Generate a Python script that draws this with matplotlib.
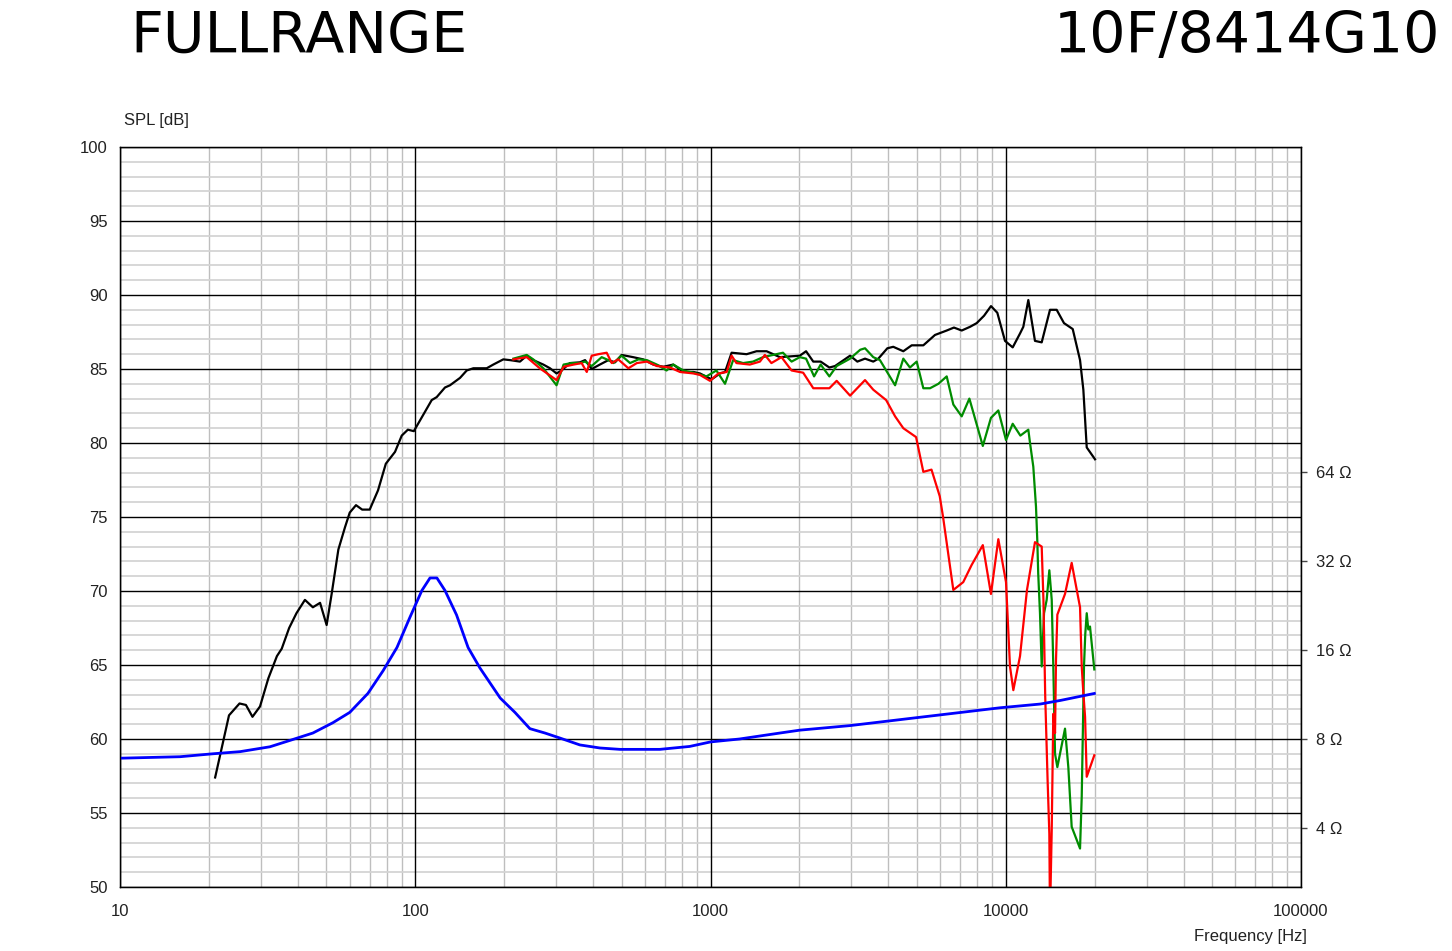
import numpy as np
import matplotlib
matplotlib.use("Agg")
import matplotlib.pyplot as plt
from matplotlib.ticker import FixedLocator, NullLocator, NullFormatter

# on-axis SPL (black)
f_black = [21.0, 23.4, 25.4, 26.7, 28.1, 29.8, 31.8, 34.0, 35.3, 37.4, 39.6, 42.3, 45.0, 47.6,
           50.1, 52.1, 54.9, 57.8, 60.0, 63.0, 66.1, 70.1, 74.8, 79.5, 85.4, 90.0, 94.4, 98.9,
           106.4, 113.7, 118.2, 126.1, 131.1, 141.8, 149.4, 157.3, 174.6, 183.8, 198.7, 209.4,
           226.3, 238.5, 251, 271.5, 286, 301, 313, 334, 361, 376, 396, 422, 451, 475, 500, 547,
           592, 640, 692, 748, 809, 875, 921, 1009, 1077, 1120, 1179, 1325, 1432, 1549, 1718,
           2007, 2107, 2229, 2361, 2527, 2641, 2970, 3143, 3337, 3559, 3702, 3972, 4159, 4498,
           4802, 5258, 5759, 6310, 6677, 7093, 7568, 7973, 8444, 8913, 9363, 9942, 10557, 11177,
           11468, 11925, 12560, 13236, 14120, 14875, 15749, 16859, 17849, 18316, 18805, 20060]
spl_black = [57.4, 61.6, 62.4, 62.3, 61.5, 62.2, 64.1, 65.6, 66.1, 67.5, 68.5, 69.4, 68.9, 69.2,
             67.7, 69.8, 72.8, 74.3, 75.3, 75.8, 75.5, 75.5, 76.8, 78.6, 79.4, 80.5, 80.9, 80.8,
             81.9, 82.9, 83.1, 83.75, 83.9, 84.4, 84.9, 85.05, 85.05, 85.3, 85.65, 85.6,
             85.5, 85.9, 85.6, 85.3, 85.05, 84.7, 84.9, 85.4, 85.45, 85.6, 85.0, 85.3, 85.6, 85.45,
             85.95, 85.8, 85.65, 85.3, 85.15, 85.3, 84.8, 84.8, 84.7, 84.3, 84.7, 84.8, 86.1, 86.0,
             86.2, 86.2, 85.8, 85.9, 86.2, 85.5, 85.5, 85.1, 85.2, 85.9, 85.5, 85.7, 85.5, 85.7,
             86.4, 86.5, 86.2, 86.6, 86.6, 87.3, 87.6, 87.8, 87.6, 87.85, 88.1, 88.6, 89.25, 88.8,
             86.9, 86.46, 87.4, 87.85, 89.66, 86.9, 86.8, 89.0, 89.0, 88.1, 87.7, 85.6, 83.6,
             79.7, 78.9]

# 30 deg (green)
f_green = [215, 238.5, 251, 271.5, 301, 318, 338, 361, 376, 396, 428, 451, 469, 500, 534, 570,
           609, 658, 710, 748, 809, 875, 969, 1047, 1120, 1193, 1289, 1393, 1506, 1628, 1760,
           1882, 2007, 2107, 2243, 2361, 2527, 2675, 2970, 3214, 3337, 3559, 3749, 4219, 4498,
           4737, 4993, 5258, 5541, 5913, 6310, 6644, 7093, 7530, 8362, 8910, 9438, 10020, 10557,
           11208, 11925, 12084, 12397, 12660, 12790, 12880, 13060, 13236, 13480, 13760, 14048,
           14313, 14490, 14687, 14953, 15875, 16290, 16722, 17849, 18085, 18407, 18594, 18805,
           19040, 19292, 19950]
spl_green = [85.7, 85.95, 85.65, 85.05, 83.9, 85.3, 85.4, 85.4, 85.5, 85.2, 85.8, 85.6, 85.4,
             85.9, 85.4, 85.65, 85.6, 85.3, 84.9, 85.3, 84.9, 84.75, 84.5, 84.9, 84.0, 85.6, 85.4,
             85.5, 85.8, 85.95, 86.1, 85.5, 85.8, 85.7, 84.5, 85.3, 84.5, 85.2, 85.7, 86.3, 86.4,
             85.8, 85.6, 83.9, 85.7, 85.1, 85.5, 83.7, 83.7, 84.0, 84.5, 82.6, 81.8, 83.0, 79.8,
             81.7, 82.2, 80.2, 81.3, 80.5, 80.9, 80.0, 78.4, 75.7, 73.4, 71.2, 68.5, 64.9, 68.5,
             69.4, 71.4, 69.4, 64.9, 59.0, 58.1, 60.7, 58.1, 54.07, 52.6, 56.1, 64.9, 67.1, 68.5,
             67.4, 67.6, 64.7]

# 60 deg (red)
f_red = [215, 238.5, 264, 301, 318, 344, 366, 381, 396, 417, 445, 463, 487, 527, 563, 609, 658,
         730, 788, 875, 921, 996, 1063, 1135, 1179, 1224, 1359, 1470, 1528, 1608, 1740, 1882,
         2060, 2229, 2527, 2675, 2970, 3337, 3559, 3935, 4219, 4498, 4969, 5258, 5604, 5977,
         6133, 6644, 7178, 7660, 8362, 8910, 9438, 10020, 10336, 10609, 11177, 11800, 12560,
         13236, 13417, 13604, 13860, 14048, 14120, 14313, 14490, 14687, 14796, 14953, 15875,
         16722, 17849, 18085, 18316, 18564, 18805, 19950]
spl_red = [85.65, 85.8, 85.05, 84.25, 85.15, 85.3, 85.4, 84.8, 85.9, 86.0, 86.1, 85.4, 85.65,
           85.05, 85.4, 85.5, 85.2, 85.1, 84.8, 84.7, 84.6, 84.2, 84.7, 84.8, 85.9, 85.4, 85.3,
           85.5, 85.95, 85.4, 85.8, 84.9, 84.75, 83.7, 83.7, 84.2, 83.2, 84.25, 83.6, 82.9, 81.8,
           81.0, 80.4, 78.05, 78.2, 76.4, 75.0, 70.07, 70.6, 71.75, 73.1, 69.8, 73.5, 70.6, 64.9,
           63.3, 65.6, 70.07, 73.3, 73.0, 69.4, 62.9, 57.2, 53.6, 48.0, 53.85, 61.7, 60.4, 65.3,
           68.4, 69.8, 71.9, 68.9, 64.9, 63.1, 61.5, 57.45, 58.9]

# impedance (blue), ohms
f_imp = [10, 15.97, 20.6, 25.5, 32.2, 37.6, 45.0, 52.6, 60.0, 69.1, 77.8, 86.7, 95.9, 105.3,
         112.2, 118.4, 126.1, 138, 151, 165.6, 194, 217.6, 244.5, 275, 309, 361, 422, 494, 673,
         850, 1000, 1254, 1718, 2007, 2970, 4383, 6480, 9570, 13090, 15320, 19950]
z_imp = [6.89, 6.97, 7.13, 7.25, 7.53, 7.91, 8.38, 9.08, 9.84, 11.4, 13.6, 16.3, 20.6, 25.4,
         28.0, 28.0, 25.4, 21.0, 16.3, 13.9, 11.0, 9.84, 8.67, 8.38, 8.06, 7.64, 7.46, 7.38,
         7.38, 7.55, 7.82, 8.0, 8.38, 8.57, 8.88, 9.30, 9.74, 10.2, 10.5, 10.8, 11.4]

x_ticks = [10, 100, 1000, 10000, 100000]
y_ticks = [50, 55, 60, 65, 70, 75, 80, 85, 90, 95, 100]
z_ticks = [4, 8, 16, 32, 64]

label_font = ["Liberation Sans", "DejaVu Sans"]
label_size = 12

fig = plt.figure(figsize=(14.52, 9.51), dpi=100)
ax = fig.add_axes([120 / 1452, 1 - 887 / 951, (1301 - 120) / 1452, (887 - 147) / 951])

ax.set_xscale("log")
ax.set_xlim(10, 100000)
ax.set_ylim(50, 100)

# light grid from minor ticks, black lines drawn on top by hand
ax.xaxis.set_minor_locator(FixedLocator([m * 10 ** d for d in range(1, 5) for m in range(2, 10)]))
ax.yaxis.set_minor_locator(FixedLocator(range(50, 101)))
ax.xaxis.set_minor_formatter(NullFormatter())
ax.grid(which="minor", axis="x", color="#bebebe", lw=1.0)
ax.grid(which="minor", axis="y", color="#d4d4d4", lw=1.3)
ax.set_axisbelow(True)
for xv in x_ticks:
    ax.axvline(xv, color="black", lw=1.0, zorder=1.5)
for yv in y_ticks:
    ax.axhline(yv, color="black", lw=1.0, zorder=1.5)

ax.set_xticks(x_ticks)
ax.set_xticklabels([str(v) for v in x_ticks])
ax.set_yticks(y_ticks)
ax.set_yticklabels([str(v) for v in y_ticks])
ax.tick_params(which="both", length=0)
ax.tick_params(axis="x", pad=12)
ax.tick_params(axis="y", pad=9)
for lab in ax.get_xticklabels() + ax.get_yticklabels():
    lab.set_family(label_font)
    lab.set_fontsize(label_size)
    lab.set_color("#222222")
for sp in ax.spines.values():
    sp.set_color("black")
    sp.set_linewidth(1.0)
    sp.set_zorder(6)

ax.plot(f_black, spl_black, color="black", lw=1.6, zorder=3)
ax.plot(f_green, spl_green, color="#008c00", lw=1.6, zorder=4)
ax.plot(f_red, spl_red, color="#ff0000", lw=1.6, zorder=5)

# impedance on a log ohm axis lined up with 8 ohm = 60 dB
ax2 = ax.twinx()
ax2.set_yscale("log")
ax2.set_ylim(8 * 10 ** (-0.5), 800)
ax2.yaxis.set_major_locator(FixedLocator(z_ticks))
ax2.yaxis.set_minor_locator(NullLocator())
ax2.set_yticklabels([f"{v} \u03a9" for v in z_ticks])
ax2.tick_params(axis="y", direction="out", length=4, width=1, color="#444444", pad=7)
for lab in ax2.get_yticklabels():
    lab.set_family(label_font)
    lab.set_fontsize(label_size)
    lab.set_color("#222222")
ax2.plot(f_imp, z_imp, color="#0000ff", lw=2.0)

fig.text(124 / 1452, 1 - 120 / 951, "SPL [dB]", family=label_font, fontsize=label_size,
         color="#222222", va="center", ha="left")
fig.text(1307 / 1452, 1 - 937 / 951, "Frequency [Hz]", family=label_font, fontsize=label_size,
         color="#222222", va="center", ha="right")

fig.text(130 / 1452, 1 - 53 / 951, "FULLRANGE", fontsize=41, family="DejaVu Sans",
         va="baseline", ha="left")
fig.text(1440 / 1452, 1 - 53 / 951, "10F/8414G10", fontsize=41, family="DejaVu Sans",
         va="baseline", ha="right")

fig.savefig("out.png", dpi=100)
